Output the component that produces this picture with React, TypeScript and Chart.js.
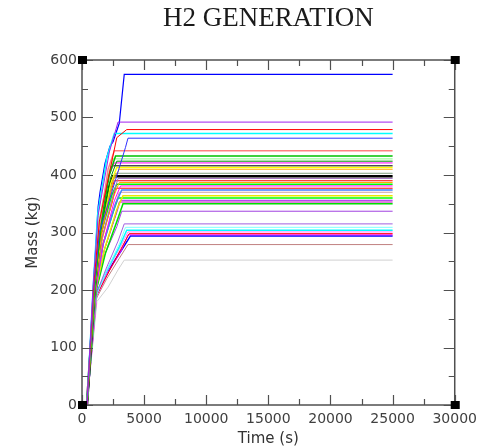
import React, { useEffect, useRef } from "react";
import { Chart, registerables } from "chart.js";

Chart.register(...registerables);

const TITLE = "H2 GENERATION";
const X_TITLE = "Time (s)";
const Y_TITLE = "Mass (kg)";

const X_MAX = 30000;
const X_MAJOR = 5000;
const X_MINOR = 2500;
const Y_MAX = 600;
const Y_MAJOR = 100;
const Y_MINOR = 50;

const START_TIME = 400;
const END_TIME = 25000;

// Top (blue) run, read point by point
const topRunTimes = [400, 900, 1300, 1450, 1850, 2250, 2500, 3000, 3400, 25000];
const topRunValues = [0, 200, 345, 370, 420, 450, 458, 490, 575, 575];
const topRunColor = "#0000ff";

// Other runs: final plateau (kg) and colour
const plateaus = [492, 479, 472, 464, 442, 433, 428, 424, 421, 416, 413, 410, 403, 398, 394, 390, 387, 384, 381, 377, 374, 370, 364, 360, 356, 353, 350, 337, 315, 309, 304, 301, 298, 296, 294, 279, 252];
const colors = ["#a020f0", "#ff0000", "#00ffff", "#3030ff", "#ff8080", "#00c000", "#80ff80", "#009000", "#ff00ff", "#000000", "#ffff00", "#ffa500", "#80a080", "#000000", "#a070c0", "#ff0000", "#ffa000", "#00ff00", "#ff00ff", "#ff0000", "#4080ff", "#d0a0a0", "#e8e800", "#00ff00", "#a020f0", "#c000c0", "#00e000", "#a040e0", "#a060e0", "#80ffff", "#00ffff", "#ff80ff", "#ff0000", "#ff00ff", "#0000ff", "#c08080", "#d0d0d0"];
const lineWidths = [1, 1, 1.5, 1, 1.5, 1.5, 1, 1, 1, 1, 1.5, 1, 1, 2.5, 1, 1, 1, 1.5, 1, 1, 1.5, 1, 1.5, 1.5, 1, 1, 1.5, 1, 1, 1, 1.5, 1, 1, 1, 1.5, 1, 1];
// Knee of the steep rise (time s, mass kg)
const kneeTimes = [900, 950, 900, 950, 950, 1000, 900, 1000, 950, 950, 1000, 1050, 950, 1000, 1050, 1000, 1050, 950, 1100, 1000, 1100, 1050, 1100, 1000, 1100, 1050, 1150, 1100, 1100, 1150, 1100, 1200, 1150, 1200, 1150, 1150, 1200];
const kneeValues = [210, 210, 205, 200, 205, 200, 200, 205, 200, 210, 200, 205, 200, 200, 200, 205, 200, 195, 200, 200, 200, 195, 200, 195, 200, 195, 200, 195, 190, 190, 190, 195, 190, 190, 195, 185, 180];
// Middle of the climb (time s, mass kg)
const midTimes = [1300, 1400, 1250, 1400, 1400, 1500, 1350, 1500, 1400, 1450, 1500, 1600, 1500, 1500, 1600, 1550, 1650, 1550, 1700, 1600, 1700, 1700, 1800, 1700, 1800, 1800, 1900, 1800, 1900, 2000, 1900, 2100, 2000, 2100, 2000, 2000, 2100];
const midValues = [330, 320, 330, 300, 310, 310, 320, 300, 310, 310, 300, 300, 300, 300, 290, 295, 290, 300, 280, 290, 280, 280, 270, 280, 270, 270, 265, 260, 235, 235, 230, 235, 225, 230, 230, 220, 205];
// Bend before the plateau (time s, mass kg)
const bendTimes = [2200, 2800, 2000, 3500, 2100, 2200, 2100, 2300, 2100, 2100, 2300, 2500, 2300, 2200, 2500, 2300, 2500, 2400, 2600, 2400, 2700, 2600, 2800, 2500, 2800, 2700, 2900, 2800, 2900, 3000, 3000, 3100, 3100, 3200, 3200, 3000, 2900];
const bendValues = [440, 465, 430, 448, 410, 400, 400, 395, 395, 395, 385, 390, 375, 380, 365, 370, 360, 365, 355, 350, 350, 345, 340, 335, 335, 330, 325, 310, 285, 280, 275, 275, 270, 270, 270, 255, 235];
// Time the plateau is reached (s)
const settleTimes = [2900, 3600, 2600, 3700, 2600, 2700, 2500, 2800, 2600, 2400, 2800, 3000, 2700, 2500, 2900, 2600, 3000, 2800, 3100, 2700, 3200, 3000, 3300, 2900, 3100, 3000, 3300, 3200, 3400, 3500, 3600, 3700, 3800, 3700, 3900, 3700, 3400];

const framePlugin = {
  id: "frameAndTitles",
  afterDraw(chart: any) {
    const { ctx, chartArea, scales } = chart;
    const { left, right, top, bottom } = chartArea;
    const xs = scales.x;
    const ys = scales.y;
    ctx.save();
    ctx.strokeStyle = "#505050";
    ctx.lineWidth = 1.5;
    ctx.strokeRect(left, top, right - left, bottom - top);
    ctx.lineWidth = 1.2;
    ctx.beginPath();
    for (let v = 0; v <= X_MAX; v += X_MINOR) {
      const px = Math.round(xs.getPixelForValue(v)) + 0.5;
      const len = v % X_MAJOR === 0 ? 10 : 6;
      ctx.moveTo(px, bottom);
      ctx.lineTo(px, bottom - len);
      ctx.moveTo(px, top);
      ctx.lineTo(px, top + len);
    }
    for (let v = 0; v <= Y_MAX; v += Y_MINOR) {
      const py = Math.round(ys.getPixelForValue(v)) + 0.5;
      const len = v % Y_MAJOR === 0 ? 11 : 6;
      ctx.moveTo(left, py);
      ctx.lineTo(left + len, py);
      ctx.moveTo(right, py);
      ctx.lineTo(right - len, py);
    }
    ctx.stroke();
    ctx.fillStyle = "#000000";
    const corners = [
      [left, top],
      [right, top],
      [left, bottom],
      [right, bottom],
    ];
    for (const [cx, cy] of corners) ctx.fillRect(cx - 4, cy - 4, 9, 8);

    const cxArea = (left + right) / 2;
    ctx.fillStyle = "#1a1a1a";
    ctx.font = "27px 'Liberation Serif'";
    ctx.textAlign = "center";
    ctx.textBaseline = "alphabetic";
    ctx.fillText(TITLE, cxArea, 18);

    ctx.fillStyle = "#333333";
    ctx.font = "15px 'DejaVu Sans'";
    ctx.textBaseline = "middle";
    ctx.fillText(X_TITLE, cxArea, 431);
    ctx.translate(25, (top + bottom) / 2);
    ctx.rotate(-Math.PI / 2);
    ctx.fillText(Y_TITLE, 0, 0);
    ctx.restore();
  },
};

export default function App() {
  const canvasRef = useRef<HTMLCanvasElement | null>(null);

  useEffect(() => {
    if (!canvasRef.current) return;
    const datasets: any[] = [];
    plateaus.forEach((p, i) => {
      datasets.push({
        data: [
          { x: START_TIME, y: 0 },
          { x: kneeTimes[i], y: kneeValues[i] },
          { x: midTimes[i], y: midValues[i] },
          { x: bendTimes[i], y: bendValues[i] },
          { x: settleTimes[i], y: p },
          { x: END_TIME, y: p },
        ],
        borderColor: colors[i],
        borderWidth: lineWidths[i],
        pointRadius: 0,
        fill: false,
        tension: 0,
      });
    });
    datasets.push({
      data: topRunTimes.map((t, i) => ({ x: t, y: topRunValues[i] })),
      borderColor: topRunColor,
      borderWidth: 1.2,
      pointRadius: 0,
      fill: false,
      tension: 0,
    });

    const chart = new Chart(canvasRef.current, {
      type: "line",
      data: { datasets },
      options: {
        animation: false,
        responsive: true,
        maintainAspectRatio: false,
        layout: { padding: { top: 52, right: 24, left: 0, bottom: 0 } },
        plugins: {
          legend: { display: false },
          tooltip: { enabled: false },
          title: { display: false },
        },
        scales: {
          x: {
            type: "linear",
            min: 0,
            max: X_MAX,
            grid: { display: false, drawTicks: false },
            border: { display: false },
            ticks: {
              stepSize: X_MAJOR,
              padding: 6,
              color: "#404040",
              font: { family: "DejaVu Sans", size: 14 },
              maxRotation: 0,
              callback: (v: any) => String(v),
            },
            afterFit: (s: any) => {
              s.height = 41;
            },
          },
          y: {
            type: "linear",
            min: 0,
            max: Y_MAX,
            grid: { display: false, drawTicks: false },
            border: { display: false },
            ticks: {
              stepSize: Y_MAJOR,
              padding: 5,
              color: "#404040",
              font: { family: "DejaVu Sans", size: 14 },
              callback: (v: any) => String(v),
            },
            afterFit: (s: any) => {
              s.width = 74;
            },
          },
        },
      },
      plugins: [framePlugin],
    });
    return () => chart.destroy();
  }, []);

  return (
    <div style={{ position: "relative", width: "475px", height: "438px", background: "#ffffff" }}>
      <canvas ref={canvasRef} />
    </div>
  );
}
